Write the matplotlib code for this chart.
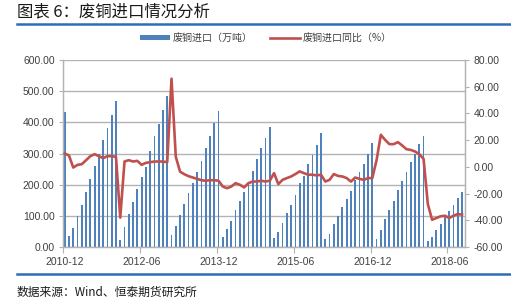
import matplotlib
matplotlib.use('Agg')
import matplotlib.pyplot as plt
from matplotlib.lines import Line2D
from matplotlib.patches import Patch
import numpy as np

plt.rcParams['font.family'] = ['Noto Sans CJK SC', 'DejaVu Sans']

# --- data: monthly, 2010-12 .. 2018-09 ---
imports_wt = [
    432,
    34, 61, 98, 136, 176, 219, 260, 299, 344, 381, 423, 467,
    22, 64, 106, 143, 185, 223, 256, 308, 355, 394, 439, 485,
    37, 68, 104, 137, 174, 206, 241, 277, 317, 356, 397, 436,
    31, 58, 85, 120, 148, 176, 210, 244, 283, 317, 349, 386,
    29, 48, 77, 108, 136, 168, 205, 229, 267, 296, 328, 365,
    26, 42, 74, 98, 127, 155, 180, 216, 242, 267, 298, 333,
    26, 53, 91, 120, 148, 184, 212, 242, 274, 299, 330, 356,
    20, 32, 55, 75, 98, 114, 136, 157, 178,
]
yoy_pct = [
    10,
    8.5, -0.5, 1.5, 2, 5, 8, 9.5, 8, 6.5, 8, 8, 7.5,
    -38, 4, 5, 4, 4.5, 1.5, 3, 3.5, 4, 4, 4, 3.5,
    66, 7.6, -3.6, -5.5, -7, -8, -9, -10, -10.4, -10, -10, -10.4,
    -14.7, -16, -14.7, -12.2, -13.4, -15.4, -12.2, -11, -11, -10.4, -11, -10.4,
    -4.7, -12.9, -9.7, -8.4, -7.2, -5.4, -3.4, -4.7, -5.9, -5.9, -6.4, -5.9,
    -11, -9.7, -5.4, -6.8, -7.2, -8.4, -11, -8, -9, -9.7, -8.4, -8.4,
    5, 24, 20.2, 17, 17, 18.5, 16, 13.2, 12.7, 11.5, 9.5, 6,
    -27.9, -39.6, -38.3, -37, -36.6, -38.3, -36.6, -35.3, -35.8,
]
tick_labels = ['2010-12', '2012-06', '2013-12', '2015-06', '2016-12', '2018-06']
tick_idx = [0, 18, 36, 54, 72, 90]
left_ticks = [0, 100, 200, 300, 400, 500, 600]
right_ticks = [-60, -40, -20, 0, 20, 40, 60, 80]

BLUE = '#4F81BD'
RED = '#C0504D'
GRID = '#B3B3B3'
TXT = '#404040'
NUMFONT = 'Liberation Sans'

fig = plt.figure(figsize=(5.11, 2.99), dpi=100)
ax = fig.add_axes([63 / 511, 52 / 299, 402 / 511, 187 / 299])
ax2 = ax.twinx()

x = np.arange(len(imports_wt))
ax.bar(x, imports_wt, width=0.42, color=BLUE, zorder=2)
ax2.plot(x, yoy_pct, color=RED, lw=1.9, zorder=3, solid_joinstyle='round')

ax.set_xlim(-0.4, 93.7)
ax.set_ylim(0, 600)
ax2.set_ylim(-60, 80)

ax.set_yticks(left_ticks)
ax.set_yticklabels([f'{v:.2f}' for v in left_ticks], fontfamily=NUMFONT, fontsize=7.5, color=TXT)
ax2.set_yticks(right_ticks)
ax2.set_yticklabels([f'{v:.2f}' for v in right_ticks], fontfamily=NUMFONT, fontsize=7.5, color=TXT)

ax.set_xticks(tick_idx)
ax.set_xticklabels(tick_labels, fontfamily=NUMFONT, fontsize=7.5, color=TXT)
ax.set_xticks([i - 0.4 for i in tick_idx], minor=True)
ax.tick_params(axis='x', which='major', length=0, pad=7)
ax.tick_params(axis='x', which='minor', length=4, color=GRID, width=0.8)
ax.tick_params(axis='y', length=3, color=GRID, width=0.8, pad=3)
ax2.tick_params(axis='y', length=3, color=GRID, width=0.8, pad=3)

ax.grid(axis='y', color=GRID, lw=1.0, zorder=0)
ax.set_axisbelow(True)
for a in (ax, ax2):
    for s in a.spines.values():
        s.set_color(GRID)
        s.set_linewidth(0.9)
    a.spines['top'].set_visible(False)

# legend
handles = [Patch(facecolor=BLUE, edgecolor='none'), Line2D([0], [0], color=RED, lw=1.9)]
fig.legend(handles, ['废铜进口（万吨）', '废铜进口同比（%）'], loc='center',
           bbox_to_anchor=(0.52, 0.873), ncol=2, frameon=False, fontsize=7.2,
           handlelength=3.0, handleheight=0.45, columnspacing=1.8, handletextpad=0.2,
           labelcolor=TXT)

# title, rules, source
fig.text(17 / 511, 1 - 12 / 299, '图表 6：废铜进口情况分析', fontsize=11.8, color='#1a1a1a', va='center', ha='left')
fig.add_artist(Line2D([17 / 511, 1.0], [1 - 23.5 / 299] * 2, color='#2E6DB4', lw=1.8))
fig.add_artist(Line2D([17 / 511, 1.0], [1 - 274 / 299] * 2, color='#2E6DB4', lw=1.8))
fig.text(17 / 511, 1 - 292 / 299, '数据来源：Wind、恒泰期货研究所', fontsize=8.5, color='#1a1a1a', va='center', ha='left')

fig.savefig('out.png', dpi=100)
